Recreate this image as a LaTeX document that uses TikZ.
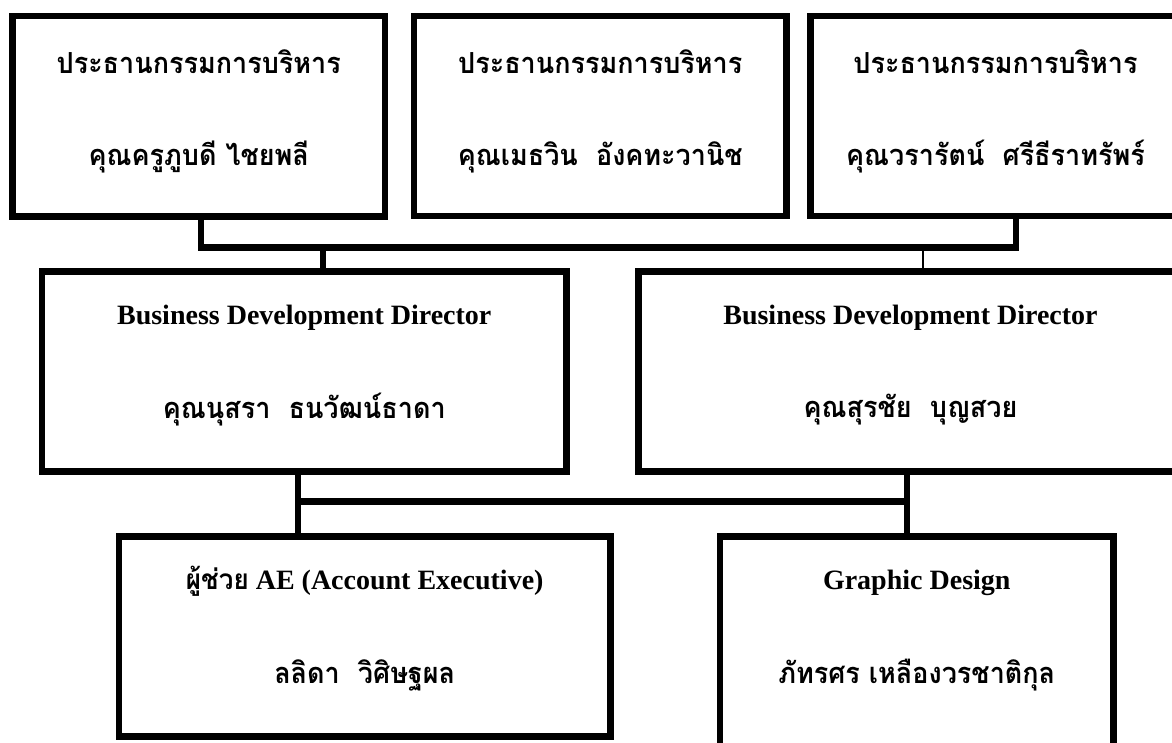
\documentclass[tikz,border=0pt]{standalone}
\usepackage{fontspec}
\setmainfont{Liberation Serif}
\newfontfamily\thaifont[Script=Thai, FakeStretch=0.93]{Loma}
\usetikzlibrary{calc}
\tikzset{
  box/.style={draw=black, line width=6.5pt, rectangle, inner sep=0pt, outer sep=0pt, anchor=north west},
  conn/.style={draw=black, line width=6.5pt},
  thinconn/.style={draw=black, line width=1.3pt},
  thai/.style={font=\thaifont\bfseries\fontsize{29pt}{34pt}\selectfont, inner sep=0pt, anchor=center},
  latin/.style={font=\bfseries\fontsize{28pt}{32pt}\selectfont, inner sep=0pt, anchor=center},
}
\begin{document}
\begin{tikzpicture}[x=1pt,y=-1pt]
\useasboundingbox (0,0) rectangle (1172,742);
\fill[white] (0,0) rectangle (1172,742);
\clip (0,0) rectangle (1172,742);

% top boxes
\node[box, minimum width=372.5pt, minimum height=200.5pt] (b1) at (12.5,16) {};
\node[box, minimum width=372.5pt, minimum height=200pt] (b2) at (414,16) {};
\node[box, minimum width=370pt, minimum height=200pt] (b3) at (810.5,16) {};
% middle boxes
\node[box, minimum width=524.5pt, minimum height=200pt] (d1) at (42,271.5) {};
\node[box, minimum width=544pt, minimum height=200pt] (d2) at (638.5,271.5) {};
% bottom boxes
\node[box, minimum width=491.5pt, minimum height=200pt] (e1) at (119,536.5) {};
\node[box, minimum width=393.5pt, minimum height=230pt] (e2) at (720,536.5) {};

% texts
\node[thai] (t1) at ($(b1.north)+(0,46)$) {ประธานกรรมการบริหาร};
\node[thai] (n1) at ($(b1.north)+(0,141)$) {คุณครูภูบดี ไชยพลี};
\node[thai] (t2) at ($(b2.north)+(0,46)$) {ประธานกรรมการบริหาร};
\node[thai] (n2) at ($(b2.north)+(0,141)$) {คุณเมธวิน~ อังคทะวานิช};
\node[thai] (t3) at ($(b3.north)+(0,46)$) {ประธานกรรมการบริหาร};
\node[thai] (n3) at ($(b3.north)+(0,141)$) {คุณวรารัตน์~ ศรีธีราทรัพร์};

\node[latin] (t4) at ($(d1.north)+(0,46)$) {Business Development Director};
\node[thai] (n4) at ($(d1.north)+(0,138)$) {คุณนุสรา~ ธนวัฒน์ธาดา};
\node[latin] (t5) at ($(d2.north)+(0,46)$) {Business Development Director};
\node[thai] (n5) at ($(d2.north)+(0,138)$) {คุณสุรชัย~ บุญสวย};

\node[latin] (t6) at ($(e1.north)+(0,45)$) {{\thaifont ผู้ช่วย} AE (Account Executive)};
\node[thai] (n6) at ($(e1.north)+(0,139)$) {ลลิดา~ วิศิษฐผล};
\node[latin] (t7) at ($(e2.north)+(0,46)$) {Graphic Design};
\node[thai] (n7) at ($(e2.north)+(0,139)$) {ภัทรศร เหลืองวรชาติกุล};

% connectors
\coordinate (j0) at (201,247.5);
\coordinate (j1) at (1016,247.5);
\coordinate (k1) at (323,247.5);
\coordinate (k2) at (923,247.5);
\coordinate (m1) at (298,501.5);
\coordinate (m2) at (907,501.5);

\draw[conn] (j0 |- b1.south) -- (j0) -- (j1) -- (j1 |- b3.south);
\draw[conn] (k1) -- (k1 |- d1.north);
\draw[thinconn] (k2) -- (k2 |- d2.north);
\draw[conn] (m1 |- d1.south) -- (m1 |- e1.north);
\draw[conn] (m1) -- (m2);
\draw[conn] (m2 |- d2.south) -- (m2 |- e2.north);
\end{tikzpicture}
\end{document}
